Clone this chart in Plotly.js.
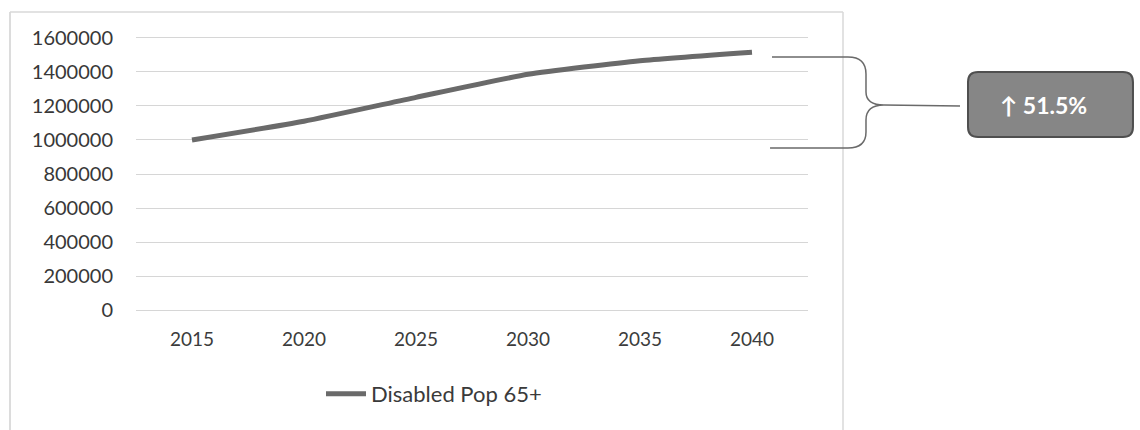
<!DOCTYPE html>
<html>
<head>
<meta charset="utf-8">
<script src="https://cdn.plot.ly/plotly-3.0.1.min.js"></script>
<style>
  html, body { margin: 0; padding: 0; background: #ffffff; }
  #chart { width: 1140px; height: 430px; }
</style>
</head>
<body>
<div id="chart"></div>
<script>
// ---- data ----
const years = ["2015", "2020", "2025", "2030", "2035", "2040"];
const disabledPop65 = [1000000, 1110000, 1250000, 1385000, 1465000, 1515000];
const seriesName = "Disabled Pop 65+";
const yTicks = [0, 200000, 400000, 600000, 800000, 1000000, 1200000, 1400000, 1600000];
const changeLabel = "↑ 51.5%";

// ---- layout geometry (pixels) ----
const W = 1140, H = 430;
const L = 136, R = 808, T = 36, B = 312;
const px = x => (x - L) / (R - L);
const py = y => (B - y) / (B - T);
const P = (x, y) => px(x).toFixed(4) + "," + py(y).toFixed(4);

const bracePath =
  "M" + P(772, 57) + " L" + P(848, 57) +
  " Q" + P(866, 57) + " " + P(866, 74) +
  " L" + P(866, 92) +
  " Q" + P(866, 105) + " " + P(884, 105) +
  " L" + P(960, 106) +
  " M" + P(884, 105) +
  " Q" + P(866, 105) + " " + P(866, 120) +
  " L" + P(866, 132) +
  " Q" + P(866, 148) + " " + P(848, 148) +
  " L" + P(770, 148);

function roundRect(x0, y0, x1, y1, r) {
  return "M" + P(x0 + r, y0) + " L" + P(x1 - r, y0) +
    " Q" + P(x1, y0) + " " + P(x1, y0 + r) +
    " L" + P(x1, y1 - r) +
    " Q" + P(x1, y1) + " " + P(x1 - r, y1) +
    " L" + P(x0 + r, y1) +
    " Q" + P(x0, y1) + " " + P(x0, y1 - r) +
    " L" + P(x0, y0 + r) +
    " Q" + P(x0, y0) + " " + P(x0 + r, y0) + " Z";
}

const trace = {
  x: years,
  y: disabledPop65,
  type: "scatter",
  mode: "lines",
  name: seriesName,
  line: { color: "#6a6a6a", width: 5, shape: "spline", smoothing: 0.5 },
  showlegend: true
};

const font = "Lato, 'Open Sans', sans-serif";

const layout = {
  width: W, height: H,
  margin: { l: L, r: W - R, t: T, b: H - B, pad: 0 },
  paper_bgcolor: "#ffffff",
  plot_bgcolor: "#ffffff",
  font: { family: font, color: "#404040", size: 19 },
  xaxis: {
    type: "category",
    range: [-0.5, years.length - 0.5],
    showgrid: false, zeroline: false, showline: false,
    ticks: "", ticklen: 0,
    ticklabelstandoff: 14,
    tickfont: { family: font, size: 19, color: "#3c3c3c" },
    automargin: false
  },
  yaxis: {
    range: [-10000, 1610000],
    tickvals: yTicks,
    ticktext: yTicks.map(v => String(v)),
    showgrid: true, gridcolor: "#d6d6d6", gridwidth: 1,
    zeroline: true, zerolinecolor: "#d6d6d6", zerolinewidth: 1,
    showline: false, ticks: "",
    ticklabelstandoff: 22,
    tickfont: { family: font, size: 20, color: "#383838" },
    automargin: false
  },
  showlegend: true,
  legend: {
    orientation: "h",
    x: px(321), xanchor: "left",
    y: py(394), yanchor: "middle",
    font: { family: font, size: 22, color: "#3a3a3a" },
    itemwidth: 40,
    bgcolor: "rgba(0,0,0,0)"
  },
  shapes: [
    // frame
    { type: "line", xref: "paper", yref: "paper", x0: px(10), x1: px(10), y0: py(12), y1: py(430), line: { color: "#d0d0d0", width: 1.5 } },
    { type: "line", xref: "paper", yref: "paper", x0: px(10), x1: px(843), y0: py(12), y1: py(12), line: { color: "#d8d8d8", width: 1.5 } },
    { type: "line", xref: "paper", yref: "paper", x0: px(843), x1: px(843), y0: py(12), y1: py(430), line: { color: "#d8d8d8", width: 1.5 } },
    // brace
    { type: "path", xref: "paper", yref: "paper", path: bracePath, line: { color: "#6a6a6a", width: 1.5 } },
    // callout box
    { type: "path", xref: "paper", yref: "paper", path: roundRect(968, 72, 1133, 137, 10),
      fillcolor: "#868686", line: { color: "#4f4f4f", width: 2 } }
  ],
  annotations: [
    { xref: "paper", yref: "paper", x: px(1043), y: py(105), xanchor: "center", yanchor: "middle",
      text: "<b>" + changeLabel + "</b>", showarrow: false,
      font: { family: font, size: 23, color: "#ffffff" } }
  ]
};

Plotly.newPlot("chart", [trace], layout, { displayModeBar: false, staticPlot: true });
</script>
</body>
</html>
